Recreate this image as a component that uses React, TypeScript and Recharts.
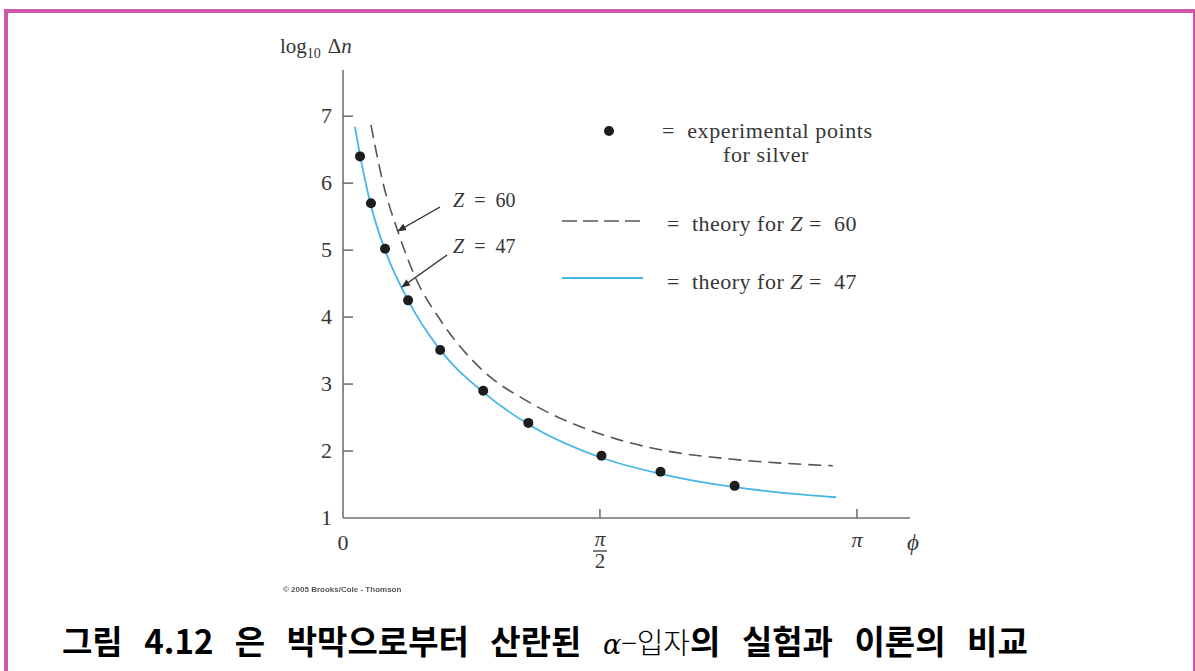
import React from 'react';
import { ComposedChart, Line, Scatter, XAxis, YAxis } from 'recharts';

const PI = Math.PI;

// Scattering angle φ (radians) against log10 Δn
const expPhi = [0.104, 0.171, 0.257, 0.398, 0.594, 0.857, 1.133, 1.58, 1.941, 2.394];
const expLogN = [6.4, 5.7, 5.02, 4.25, 3.51, 2.9, 2.42, 1.93, 1.69, 1.48];

const z47Phi = [0.073, 0.116, 0.178, 0.257, 0.398, 0.594, 0.857, 1.133, 1.58, 1.941, 2.394, 2.676, 3.013];
const z47LogN = [6.84, 6.27, 5.6, 5.0, 4.25, 3.51, 2.88, 2.4, 1.9, 1.66, 1.46, 1.38, 1.31];

const z60Phi = [0.171, 0.245, 0.337, 0.441, 0.594, 0.851, 1.145, 1.592, 1.96, 2.37, 2.994];
const z60LogN = [6.87, 6.0, 5.27, 4.6, 3.96, 3.21, 2.72, 2.24, 2.01, 1.88, 1.78];

const yTicks = [1, 2, 3, 4, 5, 6, 7];
const xTicks = [0, PI / 2, PI];

const zip = (xs: number[], ys: number[]) => xs.map((phi, i) => ({ phi, logN: ys[i] }));
const expData = zip(expPhi, expLogN);
const z47Data = zip(z47Phi, z47LogN);
const z60Data = zip(z60Phi, z60LogN);

const SERIF = '"Liberation Serif", "Times New Roman", serif';
const INK = '#363636';
const AXIS = '#727272';
const BLUE = '#46b6e4';
const DASH = '#555555';

const YTick = (props: any) => {
  const { x, y, payload } = props;
  return (
    <g>
      {payload.value !== 1 && <line x1={x} y1={y} x2={x + 10} y2={y} stroke={AXIS} strokeWidth={1.6} />}
      <text x={x - 11} y={y + 7} textAnchor="end" fontFamily={SERIF} fontSize={22} fill={INK}>
        {payload.value}
      </text>
    </g>
  );
};

const XTick = (props: any) => {
  const { x, y, payload } = props;
  const v = payload.value;
  if (v === 0) {
    return (
      <text x={x} y={y + 32} textAnchor="middle" fontFamily={SERIF} fontSize={22} fill={INK}>
        0
      </text>
    );
  }
  const half = Math.abs(v - PI / 2) < 1e-6;
  return (
    <g>
      <line x1={x} y1={y} x2={x} y2={y - 9} stroke={AXIS} strokeWidth={1.6} />
      {half ? (
        <g>
          <text textAnchor="middle" fontFamily={SERIF} fontSize={21} fill={INK}>
            <tspan x={x} y={y + 28} fontStyle="italic">π</tspan>
            <tspan x={x} y={y + 50}>2</tspan>
          </text>
          <line x1={x - 7} y1={y + 33} x2={x + 7} y2={y + 33} stroke={INK} strokeWidth={1.3} />
        </g>
      ) : (
        <text x={x} y={y + 29} textAnchor="middle" fontFamily={SERIF} fontStyle="italic" fontSize={22} fill={INK}>
          π
        </text>
      )}
    </g>
  );
};

const Dot = (props: any) => <circle cx={props.cx} cy={props.cy} r={5} fill="#1d1d1d" />;

const nb = '\u00A0';

export default function App() {
  return (
    <div style={{ position: 'absolute', left: 0, top: 0, width: 1195, height: 671, background: '#fff', overflow: 'hidden' }}>
      <div
        style={{
          position: 'absolute',
          left: 4,
          top: 9,
          width: 1193,
          height: 720,
          border: '4px solid #cd58a8',
          boxSizing: 'border-box',
        }}
      />
      <div style={{ position: 'absolute', left: 0, top: 0 }}>
        <ComposedChart width={1195} height={671} margin={{ top: 70, right: 285, bottom: 103, left: 283 }}>
          <XAxis
            type="number"
            dataKey="phi"
            domain={[0, 3.466]}
            ticks={xTicks}
            interval={0}
            tick={<XTick />}
            tickLine={false}
            tickSize={0}
            tickMargin={0}
            height={50}
            allowDataOverflow
            axisLine={{ stroke: AXIS, strokeWidth: 1.6 }}
          />
          <YAxis
            type="number"
            dataKey="logN"
            domain={[1, 7.69]}
            ticks={yTicks}
            interval={0}
            tick={<YTick />}
            tickLine={false}
            tickSize={0}
            tickMargin={0}
            width={60}
            allowDataOverflow
            axisLine={{ stroke: AXIS, strokeWidth: 1.6 }}
          />
          <Line
            data={z60Data}
            dataKey="logN"
            type="monotone"
            stroke={DASH}
            strokeWidth={1.6}
            strokeDasharray="13 7"
            dot={false}
            activeDot={false}
            isAnimationActive={false}
          />
          <Line
            data={z47Data}
            dataKey="logN"
            type="monotone"
            stroke={BLUE}
            strokeWidth={1.8}
            dot={false}
            activeDot={false}
            isAnimationActive={false}
          />
          <Scatter data={expData} dataKey="logN" fill="#1d1d1d" shape={<Dot />} isAnimationActive={false} />
        </ComposedChart>
      </div>
      <svg width={1195} height={671} style={{ position: 'absolute', left: 0, top: 0, pointerEvents: 'none' }}>
        <defs>
          <marker id="head" viewBox="0 0 10 10" refX="9" refY="5" markerWidth="9" markerHeight="9" orient="auto-start-reverse" markerUnits="userSpaceOnUse">
            <path d="M0,1 L10,5 L0,9 z" fill="#2e2e2e" />
          </marker>
        </defs>

        {/* axis titles */}
        <text x={280} y={53} fontFamily={SERIF} fontSize={21} fill={INK}>
          log
          <tspan fontSize={14} dy={5}>10</tspan>
          <tspan dx={7} dy={-5}>Δ</tspan>
          <tspan fontStyle="italic">n</tspan>
        </text>
        <text x={913} y={550} textAnchor="middle" fontFamily={SERIF} fontStyle="italic" fontSize={23} fill={INK}>
          ϕ
        </text>

        {/* curve annotations */}
        <text x={453} y={207} fontFamily={SERIF} fontSize={20} fill={INK} style={{ whiteSpace: 'pre' }}>
          <tspan fontStyle="italic">Z</tspan>
          {`${nb}${nb}=${nb}${nb}60`}
        </text>
        <line x1={440} y1={207} x2={398} y2={231} stroke="#2e2e2e" strokeWidth={1.4} markerEnd="url(#head)" />
        <text x={453} y={253} fontFamily={SERIF} fontSize={20} fill={INK} style={{ whiteSpace: 'pre' }}>
          <tspan fontStyle="italic">Z</tspan>
          {`${nb}${nb}=${nb}${nb}47`}
        </text>
        <line x1={447} y1={255} x2={402} y2={287} stroke="#2e2e2e" strokeWidth={1.4} markerEnd="url(#head)" />

        {/* key */}
        <circle cx={609} cy={131} r={5} fill="#1d1d1d" />
        <text x={662} y={138} fontFamily={SERIF} fontSize={22} fill={INK} letterSpacing={0.6}>
          {`=${nb}${nb}experimental points`}
        </text>
        <text x={766} y={162} textAnchor="middle" fontFamily={SERIF} fontSize={22} fill={INK} letterSpacing={0.6}>
          for silver
        </text>
        <line x1={562} y1={221} x2={643} y2={221} stroke={DASH} strokeWidth={1.6} strokeDasharray="15 6" />
        <text x={667} y={231} fontFamily={SERIF} fontSize={22} fill={INK} letterSpacing={0.5}>
          {`=${nb}${nb}theory for `}
          <tspan fontStyle="italic">Z</tspan>
          {`${nb}=${nb}${nb}60`}
        </text>
        <line x1={562} y1={278} x2={643} y2={278} stroke={BLUE} strokeWidth={1.8} />
        <text x={667} y={289} fontFamily={SERIF} fontSize={22} fill={INK} letterSpacing={0.5}>
          {`=${nb}${nb}theory for `}
          <tspan fontStyle="italic">Z</tspan>
          {`${nb}=${nb}${nb}47`}
        </text>

        {/* credit */}
        <text x={283} y={592} fontFamily='"Liberation Sans", Arial, sans-serif' fontSize={8} fontWeight="bold" fill="#555" style={{ filter: 'blur(0.3px)' }}>
          © 2005 Brooks/Cole - Thomson
        </text>

        {/* caption */}
        <text x={62} y={654} fontFamily='"Noto Sans CJK KR", sans-serif' fontWeight="bold" fontSize={33} fill="#000" wordSpacing={14}>
          그림 4.12 은 박막으로부터 산란된{' '}
          <tspan fontFamily='"DejaVu Serif", serif' fontStyle="italic" fontWeight="normal" fontSize={27}>α</tspan>
          <tspan fontWeight="300" fontSize={29}>−입자</tspan>
          의 실험과 이론의 비교
        </text>
      </svg>
    </div>
  );
}
